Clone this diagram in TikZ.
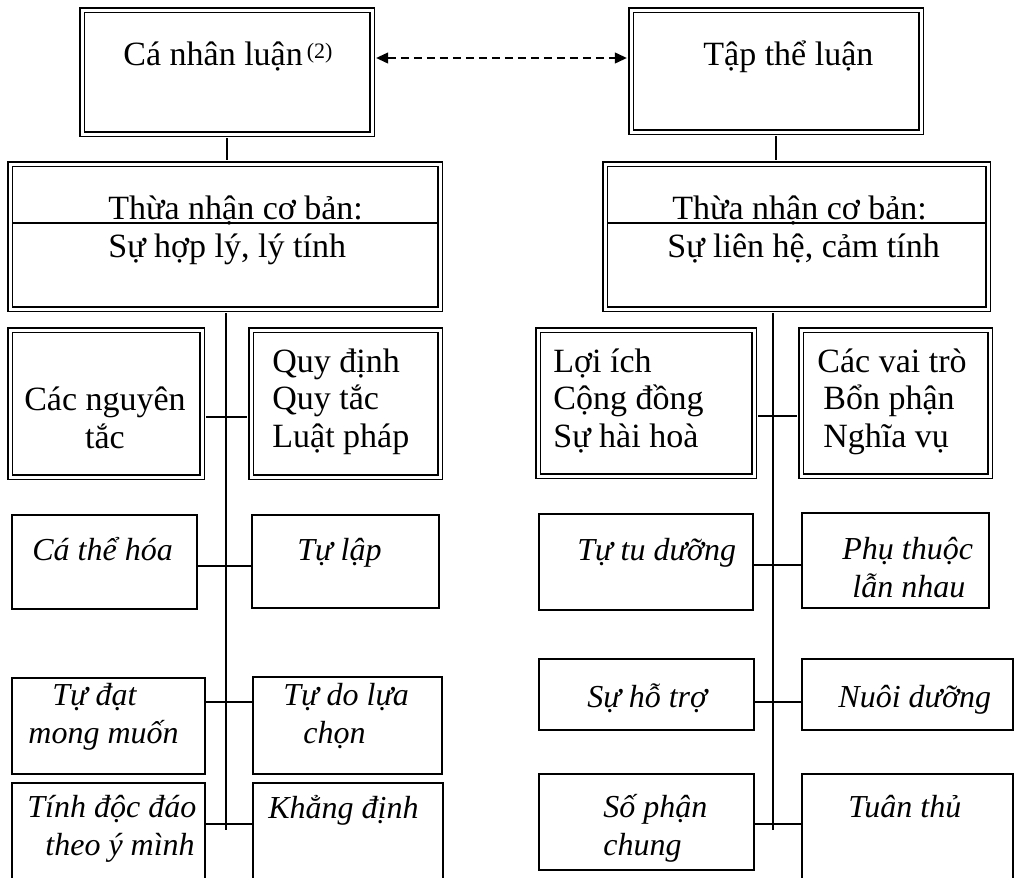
\documentclass[tikz,border=0pt]{standalone}
\usepackage{fontspec}
\setmainfont{Liberation Serif}
\usetikzlibrary{arrows.meta}

\begin{document}
\begin{tikzpicture}[x=0.5pt,y=-0.5pt,font=\fontsize{17}{18.6}\selectfont]
  \tikzstyle{dbox}=[draw,double,line width=0.9pt,double distance=1.5pt,inner sep=0pt]
  \tikzstyle{sbox}=[draw,line width=0.6pt,inner sep=0pt]
  \tikzstyle{txt}=[inner sep=0pt,anchor=base west,align=left]
  \tikzstyle{itxt}=[txt,font=\fontsize{16}{18.6}\selectfont\itshape]
  \tikzstyle{link}=[line width=0.6pt]
  \tikzstyle{dlink}=[link,shorten <=1.65pt,shorten >=1.65pt]

  \useasboundingbox (0,0) rectangle (1018,878);
  \clip (0,0) rectangle (1018,878);

  % top level
  \node[dbox,minimum width=145pt,minimum height=62pt](canhan) at (227,72) {};
  \node[dbox,minimum width=145pt,minimum height=61pt](tapthe) at (776,71) {};
  \node[dbox,minimum width=215pt,minimum height=72.5pt](coban1) at (225,236.5) {};
  \node[dbox,minimum width=191.5pt,minimum height=72.5pt](coban2) at (796.5,236.5) {};

  % double boxes
  \node[dbox,minimum width=96pt,minimum height=73.5pt](nguyen) at (106,403.5) {};
  \node[dbox,minimum width=94.5pt,minimum height=73.5pt](quydinh) at (345.5,403.5) {};
  \node[dbox,minimum width=108pt,minimum height=73pt](loiich) at (646,403) {};
  \node[dbox,minimum width=94.5pt,minimum height=73pt](vaitro) at (895.5,403) {};

  % single boxes, left
  \node[sbox,minimum width=92.5pt,minimum height=47pt](cathe) at (104.5,562) {};
  \node[sbox,minimum width=93.5pt,minimum height=46.5pt](tulap) at (345.5,561.5) {};
  \node[sbox,minimum width=96.5pt,minimum height=48pt](tudat) at (108.5,726) {};
  \node[sbox,minimum width=94.5pt,minimum height=48.5pt](tudo) at (347.5,725.5) {};
  \node[sbox,minimum width=96.5pt,minimum height=58.5pt](docdao) at (108.5,841.5) {};
  \node[sbox,minimum width=95pt,minimum height=58.5pt](khangdinh) at (348,841.5) {};

  % single boxes, right
  \node[sbox,minimum width=107pt,minimum height=48pt](tutu) at (646,562) {};
  \node[sbox,minimum width=93.5pt,minimum height=47.5pt](phuthuoc) at (895.5,560.5) {};
  \node[sbox,minimum width=107.5pt,minimum height=35.5pt](hotro) at (646.5,694.5) {};
  \node[sbox,minimum width=105.5pt,minimum height=35.5pt](nuoiduong) at (907.5,694.5) {};
  \node[sbox,minimum width=107.5pt,minimum height=48pt](sophan) at (646.5,822) {};
  \node[sbox,minimum width=105.5pt,minimum height=63pt](tuanthu) at (907.5,837) {};

  % texts (multi-line ones sit on their last baseline)
  \node[txt](l-canhan) at (123,65) {Cá nhân luận\kern2pt\raisebox{3.5pt}{\fontsize{11}{12}\selectfont(2)}};
  \node[txt](l-tapthe) at (703,65) {Tập thể luận};
  \node[txt](l-coban1) at (108,257) {Thừa nhận cơ bản:\\Sự hợp lý, lý tính};
  \node[txt](l-coban2) at (667,257) {\hspace*{2.5pt}Thừa nhận cơ bản:\\Sự liên hệ, cảm tính};
  \node[txt,anchor=base,align=center](l-nguyen) at (105,448) {Các nguyên\\tắc};
  \node[txt](l-quydinh) at (272,447) {Quy định\\Quy tắc\\Luật pháp};
  \node[txt](l-loiich) at (553,447) {Lợi ích\\Cộng đồng\\Sự hài hoà};
  \node[txt](l-vaitro) at (817,447) {Các vai trò\\\hspace*{3pt}Bổn phận\\\hspace*{3pt}Nghĩa vụ};

  \node[itxt](l-cathe) at (32,560) {Cá thể hóa};
  \node[itxt](l-tulap) at (297,560) {Tự lập};
  \node[itxt](l-tudat) at (28,743) {\hspace*{12pt}Tự đạt\\mong muốn};
  \node[itxt](l-tudo) at (283,743) {Tự do lựa\\\hspace*{10pt}chọn};
  \node[itxt](l-docdao) at (27,855) {Tính độc đáo\\\hspace*{9pt}theo ý mình};
  \node[itxt](l-khangdinh) at (268,818) {Khẳng định};
  \node[itxt](l-tutu) at (577,560) {Tự tu dưỡng};
  \node[itxt](l-phuthuoc) at (842,597) {Phụ thuộc\\\hspace*{5pt}lẫn nhau};
  \node[itxt](l-hotro) at (587,707) {Sự hỗ trợ};
  \node[itxt](l-nuoiduong) at (838,707) {Nuôi dưỡng};
  \node[itxt](l-sophan) at (603,855) {Số phận\\chung};
  \node[itxt](l-tuanthu) at (848,817) {Tuân thủ};

  % spines
  \coordinate (spL) at (226,830);
  \coordinate (spR) at (773,830);

  % connectors
  \draw[dlink] (canhan.south) -- (canhan.south |- coban1.north);
  \draw[dlink] (tapthe.south) -- (tapthe.south |- coban2.north);
  \draw[link,shorten <=1.65pt] (coban1.south -| spL) -- (spL);
  \draw[link,shorten <=1.65pt] (coban2.south -| spR) -- (spR);
  \draw[dlink] (coban1.west |- 0,223) -- (coban1.east |- 0,223);
  \draw[dlink] (coban2.west |- 0,223) -- (coban2.east |- 0,223);
  \draw[dlink] (nguyen.east |- 0,417) -- (quydinh.west |- 0,417);
  \draw[dlink] (loiich.east |- 0,416) -- (vaitro.west |- 0,416);
  \foreach \a/\b/\y in {cathe/tulap/566, tudat/tudo/702, docdao/khangdinh/824,
                        tutu/phuthuoc/565, hotro/nuoiduong/702, sophan/tuanthu/824}
    \draw[link] (\a.east |- 0,\y) -- (\b.west |- 0,\y);

  \draw[link,dash pattern=on 4pt off 2.5pt,shorten <=1.65pt,shorten >=1.65pt,
        {Triangle[length=6pt,width=5.5pt]}-{Triangle[length=6pt,width=5.5pt]}]
    (canhan.east |- 0,58) -- (tapthe.west |- 0,58);
\end{tikzpicture}
\end{document}
